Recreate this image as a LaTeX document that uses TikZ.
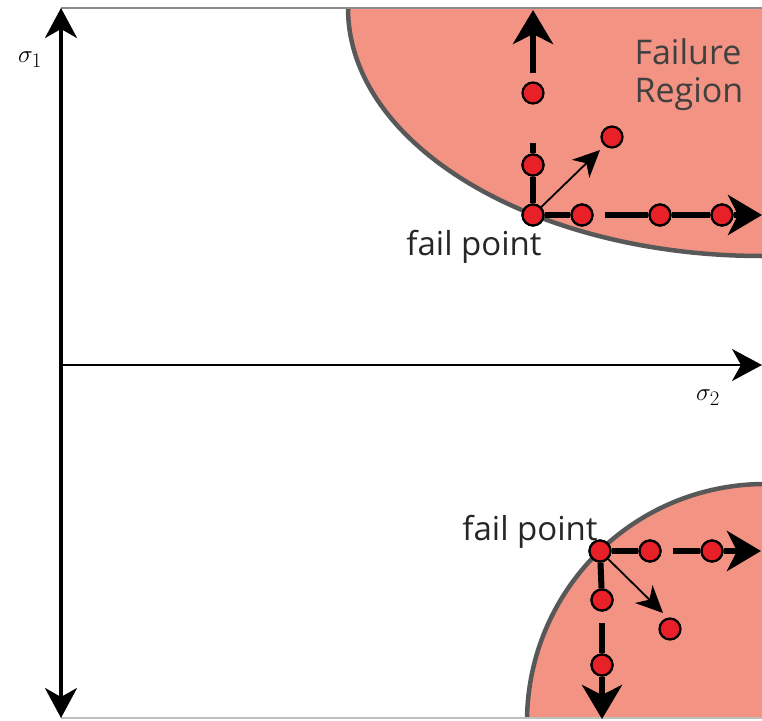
\documentclass[tikz,border=0pt]{standalone}
\usepackage{fontspec}
\setmainfont{Open Sans}
\usepackage{xcolor}
\usetikzlibrary{arrows.meta}

\definecolor{failfill}{RGB}{243,147,131}
\definecolor{edgegray}{RGB}{88,88,88}
\definecolor{dotred}{RGB}{232,32,40}

\tikzset{axistip/.tip={Stealth[length=30pt, width=32pt, inset=9pt]}}

\begin{document}
\begin{tikzpicture}[x=1pt, y=-1pt,
    axisline/.style={black, line width=3.6pt},
    loadline/.style={black, line width=6pt},
    thinline/.style={black, line width=1.8pt},
    loadtip/.style={-{Stealth[length=34pt, width=40pt, inset=10pt]}},
    smalltip/.style={-{Stealth[length=27pt, width=25pt, inset=8pt]}},
    statedot/.style={circle, draw=black, line width=2.2pt, fill=dotred,
                     inner sep=0pt, minimum size=21pt},
    lbl/.style={text=black!85, font=\fontsize{33}{38}\selectfont}]
  \useasboundingbox (0,0) rectangle (762,720);

  % Failure regions, cut to the frame
  \begin{scope}
    \clip (61,8) rectangle (762,718);
    \fill[failfill] (762,8) ellipse [x radius=414, y radius=248];
    \draw[edgegray, line width=4.5pt] (762,8) ellipse [x radius=414, y radius=248];
    \fill[failfill] (765,722) circle (238);
    \draw[edgegray, line width=4.5pt] (765,722) circle (238);
  \end{scope}

  % Frame lines
  \draw[gray!90, line width=1.5pt] (61,8) -- (762,8);
  \draw[gray!50, line width=1.2pt] (61,718) -- (762,718);

  % Axes
  \coordinate (ytop) at (61,8);
  \coordinate (ybot) at (61,718);
  \coordinate (orig) at (61,365);
  \coordinate (xend) at (762,365);
  \draw[axisline, axistip-axistip] (ytop) -- (ybot);
  \draw[black, line width=2.2pt, -axistip] (orig) -- (xend);
  \node (sone) at (30,60) {\fontsize{32}{36}\selectfont$\sigma_1$};
  \node (stwo) at (708,398) {\fontsize{32}{36}\selectfont$\sigma_2$};

  % Upper fail point and its load paths
  \node[statedot] (fa) at (533,215) {};
  \node[statedot] (fa1) at (533,165) {};
  \node[statedot] (fa2) at (533,93) {};
  \coordinate (fa1g) at (533,143);
  \coordinate (fa2g) at (533,73);
  \coordinate (fatop) at (533,10);
  \node[statedot] (fb1) at (582,215) {};
  \node[statedot] (fb2) at (660,215) {};
  \node[statedot] (fb3) at (722,215) {};
  \coordinate (fb1g) at (605,215);
  \coordinate (fbend) at (762,215);
  \coordinate (fctip) at (600,150);
  \node[statedot] (fc1) at (612,137) {};

  \draw[loadline] (fa) -- (fa1);
  \draw[loadline] (fa1) -- (fa1g);
  \draw[loadline, loadtip] (fa2g) -- (fatop);
  \draw[loadline] (fa) -- (fb1);
  \draw[loadline] (fb1g) -- (fb2) -- (fb3);
  \draw[loadline, loadtip] (fb3) -- (fbend);
  \draw[thinline, smalltip] (fa) -- (fctip);
  \node[statedot] at (fa) {};
  \node[statedot] at (fa1) {};
  \node[statedot] at (fb1) {};
  \node[statedot] at (fb2) {};
  \node[statedot] at (fb3) {};

  \node[lbl] (failup) at (474,247) {fail point};
  \node[lbl, align=left, anchor=north west, text=black!75,
        font=\fontsize{34}{38}\selectfont] (region) at (631,35) {Failure\\Region};

  % Lower fail point and its load paths
  \node[statedot] (ga) at (600,551) {};
  \node[statedot] (gb1) at (650,551) {};
  \node[statedot] (gb2) at (712,551) {};
  \coordinate (gb1g) at (673,551);
  \coordinate (gbend) at (761,551);
  \node[statedot] (gd1) at (602,600) {};
  \node[statedot] (gd2) at (602,665) {};
  \coordinate (gd1g) at (602,623);
  \coordinate (gdend) at (602,719);
  \coordinate (gctip) at (663,613);
  \node[statedot] (gc1) at (670,629) {};

  \draw[loadline] (ga) -- (gb1);
  \draw[loadline] (gb1g) -- (gb2);
  \draw[loadline, loadtip] (gb2) -- (gbend);
  \draw[loadline] (ga) -- (gd1);
  \draw[loadline] (gd1g) -- (gd2);
  \draw[loadline, loadtip] (gd2) -- (gdend);
  \draw[thinline, smalltip] (ga) -- (gctip);
  \node[statedot] at (ga) {};
  \node[statedot] at (gb1) {};
  \node[statedot] at (gb2) {};
  \node[statedot] at (gd1) {};
  \node[statedot] at (gd2) {};

  \node[lbl] (faildown) at (530,532) {fail point};
\end{tikzpicture}
\end{document}
